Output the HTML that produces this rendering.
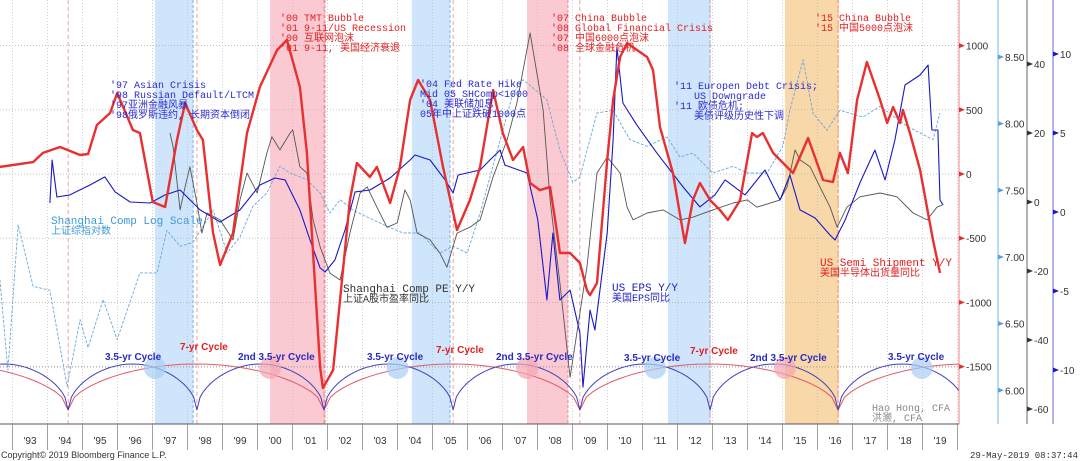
<!DOCTYPE html>
<html><head><meta charset="utf-8"><style>
html,body{margin:0;padding:0;background:#fff;}
svg{display:block;font-family:"Liberation Mono","Noto Sans CJK SC",monospace;}
</style></head><body>
<svg id="chart" width="1080" height="461" viewBox="0 0 1080 461" xmlns="http://www.w3.org/2000/svg">
<g id="bands"></g>
<g id="grid"></g>
<g id="cycles"></g>
<g id="series"></g>
<g id="axes"></g>
<g id="notes" font-size="10">
 <text fill="#2a2ad0" x="110" y="88">'97 Asian Crisis</text>
 <text fill="#2a2ad0" x="110" y="98">'98 Russian Default/LTCM</text>
 <text fill="#2a2ad0" x="110" y="108">'97亚洲金融风暴</text>
 <text fill="#2a2ad0" x="110" y="118">'98俄罗斯违约, 长期资本倒闭</text>
 <text fill="#e02020" x="280" y="21">'00 TMT Bubble</text>
 <text fill="#e02020" x="280" y="31">'01 9-11/US Recession</text>
 <text fill="#e02020" x="280" y="41">'00 互联网泡沫</text>
 <text fill="#e02020" x="280" y="51">'01 9-11, 美国经济衰退</text>
 <text fill="#2a2ad0" x="420" y="87">'04 Fed Rate Hike</text>
 <text fill="#2a2ad0" x="420" y="97">Mid 05 SHComp&lt;1000</text>
 <text fill="#2a2ad0" x="420" y="107">'04 美联储加息</text>
 <text fill="#2a2ad0" x="420" y="117">05年中上证跌破1000点</text>
 <text fill="#e02020" x="551" y="21">'07 China Bubble</text>
 <text fill="#e02020" x="551" y="31">'08 Global Financial Crisis</text>
 <text fill="#e02020" x="551" y="41">'07 中国6000点泡沫</text>
 <text fill="#e02020" x="551" y="51">'08 全球金融危机</text>
 <text fill="#2a2ad0" x="674" y="89">'11 Europen Debt Crisis;</text>
 <text fill="#2a2ad0" x="694" y="99">US Downgrade</text>
 <text fill="#2a2ad0" x="674" y="109">'11 欧债危机;</text>
 <text fill="#2a2ad0" x="694" y="119">美债评级历史性下调</text>
 <text fill="#e02020" x="815" y="21">'15 China Bubble</text>
 <text fill="#e02020" x="815" y="31">'15 中国5000点泡沫</text>
 <text fill="#3a9ad8" x="51" y="224" font-size="11">Shanghai Comp Log Scale</text>
 <text fill="#3a9ad8" x="51" y="234">上证综指对数</text>
 <text fill="#333" x="343" y="292" font-size="11">Shanghai Comp PE Y/Y</text>
 <text fill="#333" x="343" y="302">上证A股市盈率同比</text>
 <text fill="#2020c0" x="612" y="291" font-size="11">US EPS Y/Y</text>
 <text fill="#2020c0" x="612" y="301">美国EPS同比</text>
 <text fill="#e02020" x="820" y="266" font-size="11">US Semi Shipment Y/Y</text>
 <text fill="#e02020" x="820" y="276">美国半导体出货量同比</text>
 <text fill="#888" x="872" y="411">Hao Hong, CFA</text>
 <text fill="#888" x="872" y="421">洪灏, CFA</text>
 <g font-family="Liberation Sans, sans-serif" font-weight="bold" font-size="10">
 <text fill="#2a2ac0" x="105" y="360">3.5-yr Cycle</text>
 <text fill="#e02020" x="180" y="350">7-yr Cycle</text>
 <text fill="#2a2ac0" x="238" y="360">2nd 3.5-yr Cycle</text>
 <text fill="#2a2ac0" x="367" y="360">3.5-yr Cycle</text>
 <text fill="#e02020" x="436" y="353">7-yr Cycle</text>
 <text fill="#2a2ac0" x="496" y="360">2nd 3.5-yr Cycle</text>
 <text fill="#2a2ac0" x="624" y="361">3.5-yr Cycle</text>
 <text fill="#e02020" x="690" y="354">7-yr Cycle</text>
 <text fill="#2a2ac0" x="750" y="361">2nd 3.5-yr Cycle</text>
 <text fill="#2a2ac0" x="888" y="360">3.5-yr Cycle</text>
 </g>
</g>
<text x="1" y="458" font-size="9" font-family="Liberation Sans, sans-serif" fill="#333">Copyright© 2019 Bloomberg Finance L.P.</text>
<text x="1078" y="458" text-anchor="end" font-size="9" fill="#333">29-May-2019 08:37:44</text>
</svg>
<script>
// ---- data ----
const semiYears=[1992.64,1993.59,1993.87,1994.36,1994.93,1995.16,1995.41,1995.79,1995.99,1996.44,1996.64,1997.01,1997.36,1997.7,1997.93,1998.27,1998.44,1998.73,1998.93,1999.3,1999.7,2000.07,2000.56,2000.84,2001.21,2001.41,2001.79,2001.87,2002.16,2002.64,2002.84,2003.21,2003.41,2003.79,2004.07,2004.36,2004.59,2004.93,2005.3,2005.7,2006.07,2006.36,2006.73,2007.01,2007.3,2007.59,2007.79,2008.07,2008.36,2008.56,2008.64,2008.93,2009.21,2009.41,2009.5,2009.7,2009.99,2010.16,2010.36,2010.56,2010.84,2011.13,2011.3,2011.5,2011.87,2012.21,2012.44,2012.64,2012.93,2013.21,2013.44,2013.79,2014.13,2014.27,2014.44,2014.73,2014.93,2015.3,2015.73,2016.16,2016.44,2016.64,2016.87,2017.13,2017.41,2017.79,2017.99,2018.16,2018.36,2018.44,2018.64,2018.93,2019.3,2019.5];
const semiValues=[55,93,164,210,148,156,382,475,631,343,319,-218,-257,265,553,343,265,-460,-709,-460,319,678,966,1044,678,164,-1503,-1667,-1527,-203,86,-23,55,-226,55,576,732,576,55,-436,-203,55,654,319,109,210,-70,-125,-101,-460,-615,-615,-693,-904,-943,-849,109,576,911,1020,966,911,810,366,8,-538,-203,-70,-203,-280,-358,-203,319,288,319,164,109,8,280,-47,-62,164,8,576,872,576,397,522,397,499,319,31,-514,-771];
const epsYears=[1994.07,1994.13,1994.27,1994.64,1995.21,1995.64,1995.93,1996.36,1996.93,1997.36,1997.79,1998.36,1998.93,1999.5,2000.07,2000.5,2000.79,2001.21,2001.5,2001.79,2001.93,2002.21,2002.5,2002.79,2003.21,2003.79,2004.36,2004.5,2004.93,2005.36,2005.59,2005.73,2006.36,2006.64,2006.93,2007.07,2007.7,2008.01,2008.27,2008.44,2008.64,2008.93,2009.21,2009.3,2009.5,2009.64,2009.99,2010.16,2010.27,2010.44,2010.84,2011.41,2012.16,2012.64,2013.07,2013.36,2013.93,2014.5,2014.93,2015.21,2015.5,2015.93,2016.36,2016.5,2016.79,2017.21,2017.64,2017.93,2018.21,2018.5,2018.93,2019.16,2019.27,2019.44,2019.5,2019.59];
const epsValues=[0.57,3.29,0.95,1.08,1.71,2.22,1.27,0.63,0.57,1.08,1.39,0.13,-0.63,0.13,1.71,2.15,2.03,0.13,-1.77,-3.54,-3.8,-3.04,-1.14,1.27,1.39,2.15,3.29,3.61,3.29,2.03,1.2,2.34,2.66,3.29,3.92,2.97,2.47,-0.5,-5.57,-1.33,-5.57,-4.94,-7.66,-11.08,-6.2,-7.47,-1.33,4.56,10.44,6.9,5.5,3.73,1.58,0.32,1.08,2.03,1.08,2.66,0.76,2.34,0.13,-0.38,-1.46,-1.77,-0.51,1.84,3.92,2.03,4.56,8.04,8.67,9.3,5.19,5.19,0.76,0.44];
const peYears=[1997.5,1997.59,1997.79,1997.93,1998.07,1998.27,1998.41,1998.56,1998.93,1999.3,1999.5,1999.7,1999.99,2000.27,2000.41,2000.64,2000.93,2001.01,2001.21,2001.41,2001.59,2001.79,2002.07,2002.36,2002.64,2002.93,2003.13,2003.41,2003.7,2003.99,2004.21,2004.36,2004.56,2004.93,2005.21,2005.41,2005.7,2006.07,2006.36,2006.73,2007.13,2007.41,2007.79,2008.16,2008.36,2008.64,2008.93,2009.41,2009.7,2009.99,2010.36,2010.56,2010.73,2011.13,2011.59,2012.07,2012.44,2013.01,2013.59,2013.99,2014.27,2014.93,2015.13,2015.36,2015.5,2015.79,2016.07,2016.36,2016.56,2016.84,2017.21,2017.79,2018.27,2018.73,2019.13,2019.41,2019.56];
const peValues=[20,16,-2.3,4.4,10.2,-0.3,-9,-3.2,-5.2,-11,0.6,8.4,2.6,14.2,18.9,15.1,20,20.9,10.2,8.4,-5.2,-13,-20.6,-22.6,-9,2.6,4.4,-1.5,-7.3,-6.1,3.5,0.6,-9,-11,-14.8,-18.9,-9,-7.3,-5.2,7.3,18,28.7,49,26.7,0.6,-23.5,-50.8,-18.9,8.4,13,8.4,-1.5,-5.2,-3.2,-2.3,-5.2,-4.4,-2.3,-0.3,0.6,-1.5,0.6,4.4,15.1,12.2,10.2,4.4,-1.5,-7.3,-1.5,1.5,2.6,1.5,-3.2,-5.2,-1.5,-0.9];
const shYears=[1992.64,1992.87,1993.16,1993.59,1994.07,1994.56,1994.93,1995.16,1995.59,1995.99,1996.64,1997.13,1997.41,1997.79,1998.16,1998.73,1999.13,1999.5,1999.87,2000.27,2000.64,2000.93,2001.41,2001.79,2002.07,2002.36,2002.73,2003.13,2003.7,2004.16,2004.64,2005.21,2005.59,2005.99,2006.36,2007.3,2007.59,2008.27,2008.64,2009.01,2009.21,2009.7,2010.16,2010.64,2011.13,2011.7,2012.07,2012.44,2013.01,2013.59,2013.99,2014.56,2015.01,2015.21,2015.59,2015.87,2016.27,2016.64,2017.3,2017.79,2018.56,2019.3,2019.5];
const shValues=[6.83,6.15,7.24,6.78,6.75,6.03,6.53,6.32,6.68,6.38,6.88,6.88,7.2,7.08,7.11,7.35,7.03,7.15,7.38,7.48,7.68,7.63,7.58,7.48,7.33,7.43,7.35,7.3,7.23,7.18,7.18,7.03,7.08,7.03,7.33,8.23,8.33,8.18,7.8,7.56,7.6,8.08,8.1,7.88,7.83,7.9,7.75,7.78,7.63,7.68,7.63,7.63,7.83,8.1,8.48,8.08,7.95,8.1,8.05,8.13,7.98,7.88,8.08];
const yearLabels=["'93","'94","'95","'96","'97","'98","'99","'00","'01","'02","'03","'04","'05","'06","'07","'08","'09","'10","'11","'12","'13","'14","'15","'16","'17","'18","'19"];
const semiTicks=[1000,500,0,-500,-1000,-1500];
const shTicks=[8.5,8.0,7.5,7.0,6.5,6.0];
const peTicks=[40,20,0,-20,-40,-60];
const epsTicks=[10,5,0,-5,-10];
const bandStarts=[1997.07,2000.36,2004.41,2007.7,2011.73,2015.07];
const bandEnds=[1998.16,2001.93,2005.5,2008.87,2012.93,2016.59];
const bandKinds=["blue","pink","blue","pink","blue","orange"];
const shortTroughs=[1994.59,1998.27,2001.9,2005.59,2009.21,2012.93,2016.59,2020.25];
const longTroughs=[1994.59,2001.9,2009.21,2016.59];
const cycleMarkYears=[1997.07,2000.36,2004.0,2007.7,2011.36,2015.07,2018.98];
const cycleMarkKinds=["blue","pink","blue","pink","blue","pink","blue"];

// ---- scales ----
const plotL=0,plotR=959,plotB=424;
const xS=y=>12.5+(y-1993)*35;
const ySemi=v=>174-v*64.2/500;
const ySh=v=>57+(8.5-v)*133.3;
const yPe=v=>202-v*69/20;
const yEps=v=>212-v*15.8;
const NS="http://www.w3.org/2000/svg";
function mk(tag,attrs,parent){const e=document.createElementNS(NS,tag);for(const k in attrs)e.setAttribute(k,attrs[k]);parent.appendChild(e);return e;}
const G=id=>document.getElementById(id);

// bands
const bandFill={blue:"#cfe5fb",pink:"#fbc9d2",orange:"#f8d7a8"};
const bandEdge={blue:"#7ab4ec",pink:"#ee8899",orange:"#e8a24a"};
bandStarts.forEach((s,i)=>{
  const r=mk("rect",{x:xS(s),y:0,width:xS(bandEnds[i])-xS(s),height:plotB,fill:bandFill[bandKinds[i]]},G("bands"));
  
  
  mk("line",{x1:xS(bandEnds[i]),x2:xS(bandEnds[i]),y1:0,y2:plotB,stroke:bandEdge[bandKinds[i]],"stroke-width":1,"stroke-dasharray":"3,2"},G("bands"));
});
// grid
semiTicks.forEach(v=>{mk("line",{x1:0,x2:plotR,y1:ySemi(v),y2:ySemi(v),stroke:"#aaa","stroke-width":0.7,"stroke-dasharray":"1,2"},G("grid"));});
for(let y=1993;y<=2020;y++){mk("line",{x1:xS(y),x2:xS(y),y1:0,y2:plotB,stroke:"#bbb","stroke-width":0.7,"stroke-dasharray":"1,2"},G("grid"));}
shortTroughs.forEach(t=>{if(xS(t)<plotR)mk("line",{x1:xS(t),x2:xS(t),y1:0,y2:plotB,stroke:"#e88","stroke-width":0.8,"stroke-dasharray":"4,3"},G("grid"));});
// cycles
const cyBot=410,cyTop=364;
function arcPath(troughs){
  let d="";
  for(let i=0;i<troughs.length;i++){
    const a=(i==0)?troughs[0]-(troughs[1]-troughs[0]):troughs[i-1];
    const b=troughs[i];
    for(let k=0;k<=40;k++){const t=a+(b-a)*k/40;const s=Math.sin(Math.PI*k/40);
      const yy=cyBot-(cyBot-cyTop)*Math.sqrt(s);
      d+=(d?"L":"M")+xS(t).toFixed(1)+","+yy.toFixed(1);}
  }
  const n=troughs.length;const a=troughs[n-1],b=a+(troughs[n-1]-troughs[n-2]);
  for(let k=0;k<=40;k++){const t=a+(b-a)*k/40;const yy=cyBot-(cyBot-cyTop)*Math.sqrt(Math.sin(Math.PI*k/40));d+="L"+xS(t).toFixed(1)+","+yy.toFixed(1);}
  return d;
}
const cl=G("cycles");
const clip=mk("clipPath",{id:"pc"},cl);mk("rect",{x:0,y:0,width:plotR,height:plotB},clip);
const p1=mk("path",{d:arcPath(longTroughs),fill:"none",stroke:"#e05a6a","stroke-width":1,"clip-path":"url(#pc)"},cl);


const p2=mk("path",{d:arcPath(shortTroughs),fill:"none",stroke:"#4040c0","stroke-width":1,"clip-path":"url(#pc)"},cl);


mk("line",{x1:0,x2:plotR,y1:cyTop+3,y2:cyTop+3,stroke:"#999","stroke-width":0.7,"stroke-dasharray":"1,2"},cl);
cycleMarkYears.forEach((y,i)=>{
  const c=mk("circle",{cx:xS(y),cy:368,r:11,fill:cycleMarkKinds[i]=="blue"?"#a9cff5":"#f3a5b0",opacity:0.7},cl);
  
  
});
// series
function line(xs,vs,sc,attrs,name){
  let d="";xs.forEach((x,i)=>{d+=(i?"L":"M")+xS(x).toFixed(1)+","+sc(vs[i]).toFixed(1);});
  const p=mk("path",Object.assign({d:d,fill:"none","stroke-linejoin":"round"},attrs),G("series"));
  
  
}
line(shYears,shValues,ySh,{stroke:"#6aa8e0","stroke-width":0.9,"stroke-dasharray":"3,1.5"},"shanghai-log-line");
line(peYears,peValues,yPe,{stroke:"#555","stroke-width":0.9},"shanghai-pe-line");
line(epsYears,epsValues,yEps,{stroke:"#1818c8","stroke-width":1.1},"us-eps-line");
line(semiYears,semiValues,ySemi,{stroke:"#e83030","stroke-width":2.4},"semi-shipment-line");
// axes
const ax=G("axes");
mk("line",{x1:0,x2:plotR,y1:plotB,y2:plotB,stroke:"#555","stroke-width":1},ax);
for(let y=1993;y<=2020;y++){mk("line",{x1:xS(y),x2:xS(y),y1:plotB,y2:450,stroke:"#888","stroke-width":0.8},ax);}
yearLabels.forEach((l,i)=>{const t=mk("text",{x:xS(1993+i)+17.5,y:444,"text-anchor":"middle","font-size":10,fill:"#333","font-family":"Liberation Sans, sans-serif"},ax);t.textContent=l;
 
 });
function yAxis(x,color,lineColor,ticks,sc,fmt,name){
  mk("line",{x1:x,x2:x,y1:0,y2:plotB,stroke:lineColor,"stroke-width":1},ax);
  ticks.forEach(v=>{const y=sc(v);
    mk("path",{d:`M${x},${y-2.5}L${x+6},${y}L${x},${y+2.5}Z`,fill:color},ax);
    const t=mk("text",{x:x+7,y:y+4,"font-size":10,fill:"#333","font-family":"Liberation Sans, sans-serif"},ax);t.textContent=fmt(v);
    
    });
}
yAxis(959,"#e03030","#f08080",semiTicks,ySemi,v=>String(v),"semi-axis");
yAxis(998,"#5aa0dc","#7ab4e0",shTicks,ySh,v=>v.toFixed(2),"shanghai-axis");
yAxis(1027,"#333","#666",peTicks,yPe,v=>String(v),"pe-axis");
yAxis(1053,"#1818c8","#6a6ad0",epsTicks,yEps,v=>String(v),"eps-axis");
</script>
</body></html>
